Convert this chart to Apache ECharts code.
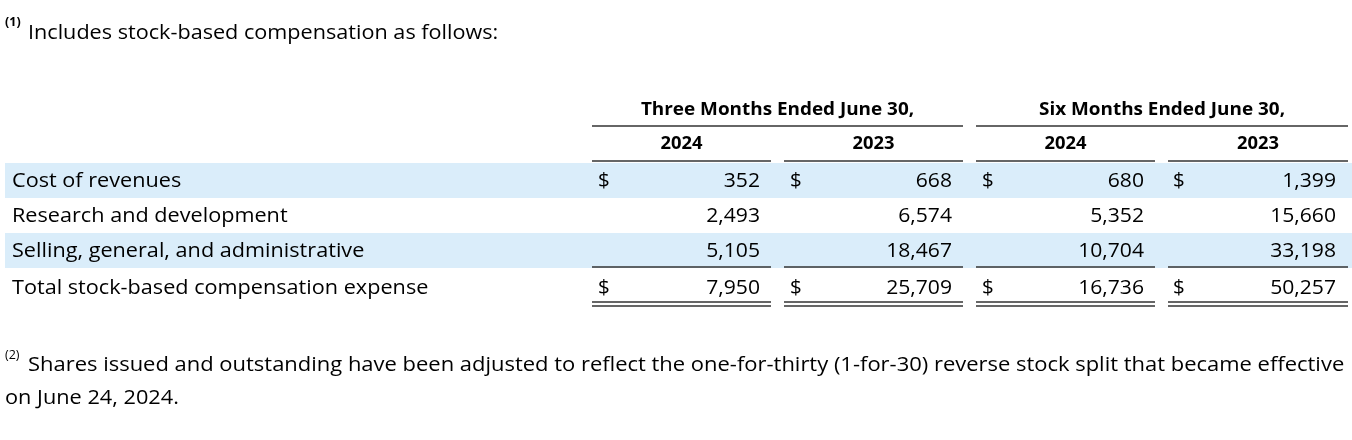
<!DOCTYPE html>
<html>
<head>
<meta charset="utf-8">
<script src="https://cdn.jsdelivr.net/npm/echarts@6/dist/echarts.min.js"></script>
<style>html,body{margin:0;padding:0;background:#fff}#c{width:1352px;height:440px}</style>
</head>
<body>
<div id="c"></div>
<script>
const footnote1 = "Includes stock-based compensation as follows:";
const footnote2a = "Shares issued and outstanding have been adjusted to reflect the one-for-thirty (1-for-30) reverse stock split that became effective";
const footnote2b = "on June 24, 2024.";
const groupHeaders = ["Three Months Ended June 30,", "Six Months Ended June 30,"];
const yearLabels = ["2024", "2023", "2024", "2023"];
const rowLabels = ["Cost of revenues", "Research and development", "Selling, general, and administrative", "Total stock-based compensation expense"];
const threeMonths2024 = [352, 2493, 5105, 7950];
const threeMonths2023 = [668, 6574, 18467, 25709];
const sixMonths2024 = [680, 5352, 10704, 16736];
const sixMonths2023 = [1399, 15660, 33198, 50257];
const dollarRows = [0, 3];

const FONT = '"Open Sans", Lato, sans-serif';
const cols = [threeMonths2024, threeMonths2023, sixMonths2024, sixMonths2023];
const colSeg = [[592, 771], [784, 963], [976, 1155], [1168, 1348]];
const colRight = [760, 952, 1144, 1336];
const dollarX = [598, 790, 982, 1173];
const rowY = [181, 216, 251, 288];
const bandColor = '#DAEDFA';
const ink = '#000';
const lineColor = '#333';
const BODY = 20.5;

const g = [];
[0, 2].forEach(i => {
  g.push({type: 'rect', shape: {x: 5, y: rowY[i] - 18, width: 1347, height: 35}, style: {fill: bandColor}, z: 0});
});
function txt(x, y, text, size, opts) {
  opts = opts || {};
  g.push({type: 'text', x: x, y: y, z: 2, scaleX: opts.sx || 1,
    style: {text: text, fontSize: size, fontFamily: FONT, fontWeight: opts.bold ? 'bold' : 'normal', fill: ink, textAlign: opts.align || 'left', textVerticalAlign: 'middle'}});
}
function line(x1, y, x2, w) {
  g.push({type: 'line', z: 3, shape: {x1: x1, y1: y, x2: x2, y2: y}, style: {stroke: lineColor, lineWidth: w || 1.5}});
}
txt(5, 22, "(1)", 12.5, {bold: true});
txt(28, 33, footnote1, BODY, {sx: 1.055});
txt((colSeg[0][0] + colSeg[1][1]) / 2, 110, groupHeaders[0], 17.5, {bold: true, align: 'center', sx: 1.08});
txt((colSeg[2][0] + colSeg[3][1]) / 2, 110, groupHeaders[1], 17.5, {bold: true, align: 'center', sx: 1.08});
line(colSeg[0][0], 126, colSeg[1][1]);
line(colSeg[2][0], 126, colSeg[3][1]);
yearLabels.forEach((yl, i) => {
  txt((colSeg[i][0] + colSeg[i][1]) / 2, 144, yl, 17.5, {bold: true, align: 'center', sx: 1.05});
  line(colSeg[i][0], 161, colSeg[i][1]);
  line(colSeg[i][0], 267, colSeg[i][1]);
  line(colSeg[i][0], 302, colSeg[i][1]);
  line(colSeg[i][0], 306, colSeg[i][1]);
});
rowLabels.forEach((lab, r) => {
  txt(12, rowY[r], lab, BODY, {sx: 1.056});
  cols.forEach((c, ci) => {
    txt(colRight[ci], rowY[r], c[r].toLocaleString('en-US'), BODY, {align: 'right', sx: 1.03});
    if (dollarRows.indexOf(r) >= 0) txt(dollarX[ci], rowY[r], "$", BODY);
  });
});
txt(5, 355, "(2)", 12.5);
txt(28, 365, footnote2a, BODY, {sx: 1.071});
txt(5, 398, footnote2b, BODY, {sx: 1.06});

const chart = echarts.init(document.getElementById('c'), null, {renderer: 'canvas'});
chart.setOption({animation: false, graphic: {elements: g}});
</script>
</body>
</html>
